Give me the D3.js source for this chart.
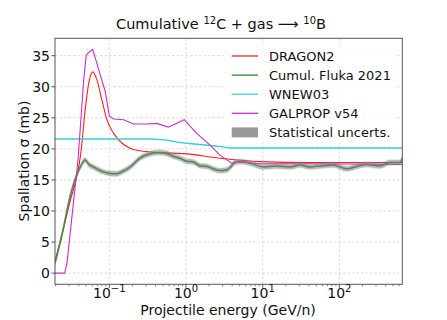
<!DOCTYPE html>
<html><head><meta charset="utf-8">
<script src="https://cdn.jsdelivr.net/npm/d3@7"></script>
<style>body{margin:0;background:#fff;}svg{display:block;font-family:"DejaVu Sans",sans-serif;}</style>
</head><body><svg id="c" width="447" height="320"></svg>
<script>
// ---- data ----
const dragonE = [0.0196, 0.03, 0.043, 0.049, 0.055, 0.061, 0.069, 0.08, 0.093, 0.114, 0.147, 0.186, 0.25, 0.46, 1.0, 2.8, 9.2, 41, 661];
const dragonS = [1.9, 11, 19.8, 26.8, 31.1, 32.4, 31.1, 27.9, 24.7, 22.5, 20.9, 20.1, 19.7, 19.4, 19.2, 18.5, 17.95, 17.8, 17.8];

const flukaE = [0.0196, 0.0245, 0.0308, 0.0376, 0.0428, 0.0482, 0.0543, 0.0618, 0.0835, 0.102, 0.125, 0.151, 0.186, 0.251, 0.34, 0.458, 0.548, 0.682, 0.835, 1.02, 1.245, 1.52, 1.86, 2.25, 2.77, 3.39, 3.75, 4.36, 5.06, 6.84, 10.2, 15.2, 22.7, 30.6, 41.4, 55.8, 83.2, 124, 176, 227, 338, 457, 617, 661];
const flukaS = [1.6, 6.5, 12.3, 15.8, 17.3, 18.2, 17.5, 17.1, 16.3, 16.05, 16.0, 16.4, 17.05, 18.5, 19.2, 19.4, 19.3, 18.8, 18.5, 18.0, 17.9, 17.3, 17.2, 16.8, 16.5, 16.6, 17.0, 17.8, 17.95, 17.7, 17.1, 17.25, 17.1, 17.4, 17.1, 17.25, 17.4, 16.8, 17.25, 17.5, 17.25, 17.8, 17.8, 18.5];
const flukaErr = 0.4;

const wnewE = [0.0196, 0.35, 0.6, 0.85, 1.38, 2.77, 3.9, 661];
const wnewS = [21.6, 21.6, 21.35, 21.0, 20.75, 20.4, 20.15, 20.15];

const galpropE = [0.0196, 0.0262, 0.0281, 0.0391, 0.0464, 0.0501, 0.0548, 0.0608, 0.0657, 0.0763, 0.0887, 0.1, 0.114, 0.154, 0.206, 0.307, 0.415, 0.588, 0.95, 1.38, 2.06, 2.77, 3.94, 4.62, 9.2, 41, 661];
const galpropS = [0, 0, 1.6, 18.2, 31.1, 35.1, 35.6, 36.0, 34.6, 31.9, 29.2, 25.3, 24.8, 24.7, 24.0, 24.0, 24.1, 23.5, 24.7, 22.5, 20.6, 19.0, 17.7, 17.95, 17.6, 17.6, 17.5];

const yTicks = [0, 5, 10, 15, 20, 25, 30, 35];
const xMajor = [0.1, 1, 10, 100];
const xMajorExp = ["\u22121", "0", "1", "2"];
const legendLabels = ["DRAGON2", "Cumul. Fluka 2021", "WNEW03", "GALPROP v54", "Statistical uncerts."];

// ---- layout ----
const svg = d3.select("#c");
const L = 55, R = 402.3, T = 38.3, B = 284.3;
const x = d3.scaleLog().domain([0.0196, 661]).range([L, R]);
const y = d3.scaleLinear().domain([-1.8, 37.8]).range([B, T]);

const colors = {dragon: "#ff2020", fluka: "#2a8a2a", wnew: "#3ad0cc", galprop: "#cc2ccc", band: "#808080"};

// grid
const g = svg.append("g");
yTicks.forEach(v => g.append("line").attr("x1", L).attr("x2", R).attr("y1", y(v)).attr("y2", y(v))
  .attr("stroke", "#d0d0d0").attr("stroke-width", 0.8).attr("stroke-dasharray", "2.5,2"));
xMajor.forEach(v => g.append("line").attr("y1", T).attr("y2", B).attr("x1", x(v)).attr("x2", x(v))
  .attr("stroke", "#d0d0d0").attr("stroke-width", 0.8).attr("stroke-dasharray", "2.5,2"));

const clip = svg.append("clipPath").attr("id", "pc").append("rect").attr("x", L).attr("y", T).attr("width", R - L).attr("height", B - T);
const plot = svg.append("g").attr("clip-path", "url(#pc)");

function pts(E, S) { return E.map((e, i) => [e, S[i]]); }
const lineM = d3.line().x(d => x(d[0])).y(d => y(d[1])).curve(d3.curveMonotoneX);
const lineL = d3.line().x(d => x(d[0])).y(d => y(d[1]));

plot.append("path").attr("d", lineM(pts(dragonE, dragonS))).attr("fill", "none").attr("stroke", colors.dragon).attr("stroke-width", 1.1);
plot.append("path").attr("d", lineM(pts(flukaE, flukaS))).attr("fill", "none").attr("stroke", colors.fluka).attr("stroke-width", 1.5);
plot.append("path").attr("d", lineM(pts(wnewE, wnewS))).attr("fill", "none").attr("stroke", colors.wnew).attr("stroke-width", 1.4);
plot.append("path").attr("d", lineL(pts(galpropE, galpropS))).attr("fill", "none").attr("stroke", colors.galprop).attr("stroke-width", 1.1);
const area = d3.area().x(d => x(d[0])).y0(d => y(d[1] - flukaErr)).y1(d => y(d[1] + flukaErr)).curve(d3.curveMonotoneX);
plot.append("path").attr("d", area(pts(flukaE, flukaS))).attr("fill", colors.band).attr("opacity", 0.55).attr("stroke", colors.band).attr("stroke-opacity", 0.35).attr("stroke-width", 1.5);

// spines
svg.append("rect").attr("x", L).attr("y", T).attr("width", R - L).attr("height", B - T).attr("fill", "none").attr("stroke", "#555").attr("stroke-width", 1);

// y ticks
yTicks.forEach(v => {
  svg.append("line").attr("x1", L - 3.5).attr("x2", L).attr("y1", y(v)).attr("y2", y(v)).attr("stroke", "#555");
  svg.append("text").attr("x", L - 5).attr("y", y(v)).attr("dy", "0.36em").attr("text-anchor", "end").attr("font-size", 14).attr("fill", "#111").text(v);
});
// x ticks
const minor = [];
[-2, -1, 0, 1, 2].forEach(p => { for (let k = 2; k <= 9; k++) { const v = k * Math.pow(10, p); if (v >= x.domain()[0] && v <= x.domain()[1]) minor.push(v); } });
minor.forEach(v => svg.append("line").attr("x1", x(v)).attr("x2", x(v)).attr("y1", B).attr("y2", B + 2).attr("stroke", "#555").attr("stroke-width", 0.7));
xMajor.forEach((v, i) => {
  svg.append("line").attr("x1", x(v)).attr("x2", x(v)).attr("y1", B).attr("y2", B + 3.5).attr("stroke", "#555");
  const t = svg.append("text").attr("x", x(v)).attr("y", 298).attr("text-anchor", "middle").attr("font-size", 14).attr("fill", "#111");
  t.append("tspan").text("10");
  t.append("tspan").attr("dy", -6).attr("font-size", 10).text(xMajorExp[i]);
});

// labels
svg.append("text").attr("x", 228).attr("y", 315).attr("text-anchor", "middle").attr("font-size", 14).attr("fill", "#111").text("Projectile energy (GeV/n)");
svg.append("text").attr("transform", "translate(29,161) rotate(-90)").attr("text-anchor", "middle").attr("font-size", 14).attr("fill", "#111")
  .text("Spallation \u03c3 (mb)");
const title = svg.append("text").attr("x", 221).attr("y", 29).attr("text-anchor", "middle").attr("font-size", 14.5).attr("fill", "#111");
title.append("tspan").text("Cumulative ");
title.append("tspan").attr("dy", -5).attr("font-size", 10).text("12");
title.append("tspan").attr("dy", 5).text("C + gas \u27f6 ");
title.append("tspan").attr("dy", -5).attr("font-size", 10).text("10");
title.append("tspan").attr("dy", 5).text("B");

// legend
const lg = svg.append("g");
lg.append("rect").attr("x", 226).attr("y", 44).attr("width", 171).attr("height", 99).attr("rx", 3).attr("fill", "#fff").attr("fill-opacity", 0.8);
const lcol = [colors.dragon, colors.fluka, colors.wnew, colors.galprop];
legendLabels.forEach((lab, i) => {
  const cy = 56 + i * 19.1;
  if (i < 4) lg.append("line").attr("x1", 231.7).attr("x2", 258).attr("y1", cy).attr("y2", cy).attr("stroke", lcol[i]).attr("stroke-width", 1.3);
  else lg.append("rect").attr("x", 231.7).attr("y", cy - 5).attr("width", 26.3).attr("height", 10).attr("fill", "#999");
  lg.append("text").attr("x", 269).attr("y", cy).attr("dy", "0.36em").attr("font-size", 13).attr("fill", "#111").text(lab);
});
</script></body></html>
